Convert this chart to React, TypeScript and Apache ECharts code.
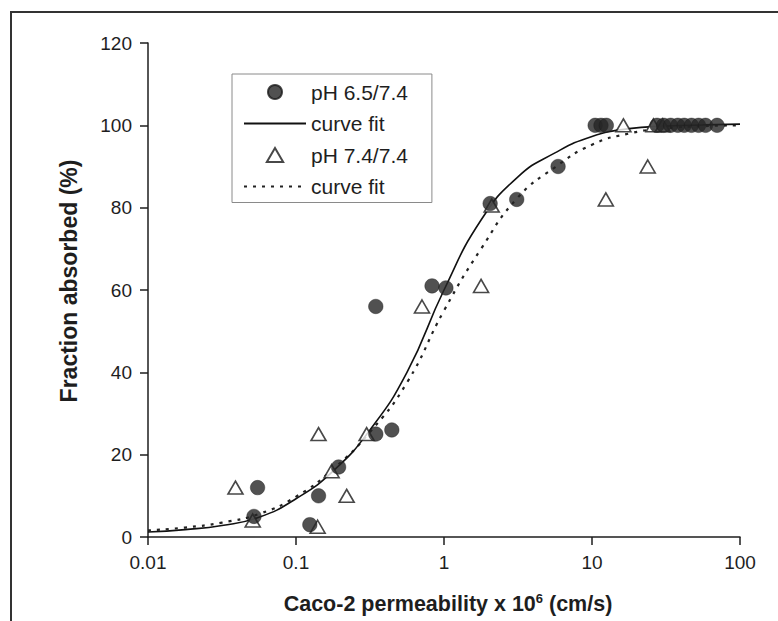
import React, { useEffect, useRef } from "react";
import * as echarts from "echarts";

// ---- data ----
const xTickValues = [0.01, 0.1, 1, 10, 100];
const xTickLabels = ["0.01", "0.1", "1", "10", "100"];
const yTickLabels = ["0", "20", "40", "60", "80", "100", "120"];

const legendLabels = ["pH 6.5/7.4", "curve fit", "pH 7.4/7.4", "curve fit"];
const seriesNames = ["pH 6.5/7.4", "fitA", "pH 7.4/7.4", "fitB"];

// pH 6.5/7.4 (filled circles)
const circlesX = [0.052, 0.055, 0.124, 0.142, 0.194, 0.346, 0.444, 0.346, 0.83, 1.03, 2.05, 3.1, 5.9, 10.5, 11.5, 12.5, 27.5, 30.5, 34, 38, 42, 47, 52.5, 58.5, 70];
const circlesY = [5, 12, 3, 10, 17, 25, 26, 56, 61, 60.5, 81, 82, 90, 100, 100, 100, 100, 100, 100, 100, 100, 100, 100, 100, 100];

// pH 7.4/7.4 (open triangles)
const trianglesX = [0.039, 0.051, 0.14, 0.142, 0.174, 0.22, 0.3, 0.71, 1.78, 2.1, 12.4, 16.3, 23.8, 26, 30];
const trianglesY = [12, 4, 2.5, 25, 16, 10, 25, 56, 61, 80.5, 82, 100, 90, 100, 100];

// curve fit (solid) for pH 6.5/7.4, read at quarter-decade steps
const fitSolidX = [0.01, 0.0178, 0.0316, 0.0562, 0.1, 0.178, 0.316, 0.562, 1, 1.78, 3.16, 5.62, 10, 17.8, 31.6, 56.2, 100];
const fitSolidY = [1.2, 1.8, 2.8, 4.8, 9.3, 16, 26, 40, 60, 77, 87.5, 93.3, 97.3, 99.2, 99.8, 100.1, 100.3];

// curve fit (dotted) for pH 7.4/7.4, read at quarter-decade steps
const fitDotX = [0.01, 0.0178, 0.0316, 0.0562, 0.1, 0.178, 0.316, 0.562, 1, 1.78, 3.16, 5.62, 10, 17.8, 31.6, 56.2, 100];
const fitDotY = [1.6, 2.3, 3.5, 5.6, 9.8, 16.5, 25.5, 37.5, 55, 70, 82.5, 89.8, 95.3, 98, 99.3, 99.8, 100];

const FONT = "'Liberation Sans', Arial, Helvetica, sans-serif";
const INK = "#1e1e1e";
const CLEAR = "rgba(0,0,0,0)";

const zip = (xs: number[], ys: number[]) => xs.map((x, i) => [x, ys[i]]);

export default function App() {
  const ref = useRef<HTMLDivElement>(null);

  useEffect(() => {
    if (!ref.current) return;
    const chart = echarts.init(ref.current, null, { renderer: "svg" });
    chart.setOption({
      animation: false,
      backgroundColor: "#ffffff",
      textStyle: { fontFamily: FONT, color: INK },
      grid: { left: 148, right: 38, top: 43, bottom: 84, containLabel: false },
      graphic: [
        {
          type: "rect",
          shape: { x: 11, y: 12, width: 800, height: 700 },
          style: { fill: "none", stroke: "#333", lineWidth: 2 },
          silent: true,
        },
      ],
      legend: {
        left: 232,
        top: 74,
        orient: "vertical",
        data: [
          { name: seriesNames[0] },
          { name: seriesNames[1], itemStyle: { color: CLEAR, borderColor: CLEAR, borderWidth: 0 } },
          { name: seriesNames[2], icon: "path://M7,0 L14,12 L0,12 Z" },
          { name: seriesNames[3], itemStyle: { color: CLEAR, borderColor: CLEAR, borderWidth: 0 } },
        ],
        itemWidth: 62,
        itemHeight: 14,
        itemGap: 9.5,
        padding: [7, 24, 5, 11],
        borderColor: "#8a8a8a",
        borderWidth: 1,
        backgroundColor: "#ffffff",
        selectedMode: false,
        textStyle: { fontFamily: FONT, fontSize: 21, color: INK, lineHeight: 22 },
        formatter: (name: string) => legendLabels[seriesNames.indexOf(name)],
      },
      xAxis: {
        type: "log",
        logBase: 10,
        min: xTickValues[0],
        max: xTickValues[xTickValues.length - 1],
        name: "Caco-2 permeability x 10{sup|6} (cm/s)",
        nameLocation: "middle",
        nameGap: 55,
        nameTextStyle: {
          fontFamily: FONT,
          fontSize: 21.5,
          fontWeight: "bold",
          color: INK,
          padding: [0, 0, 0, 8],
          rich: {
            sup: { fontSize: 13, fontWeight: "bold", verticalAlign: "top", padding: [0, 0, 10, 0], fontFamily: FONT, color: INK },
          },
        },
        axisLine: { lineStyle: { color: INK, width: 1.5 } },
        axisTick: { show: true, length: 8, inside: false, lineStyle: { color: INK, width: 1.5 } },
        minorTick: { show: false },
        splitLine: { show: false },
        axisLabel: {
          fontFamily: FONT,
          fontSize: 19,
          color: INK,
          margin: 16,
          formatter: (v: number) => {
            const idx = Math.round(Math.log10(v)) + 2;
            return xTickLabels[idx] ?? "";
          },
        },
      },
      yAxis: {
        type: "value",
        min: 0,
        max: 120,
        interval: 20,
        name: "Fraction absorbed (%)",
        nameLocation: "middle",
        nameGap: 68,
        nameTextStyle: { fontFamily: FONT, fontSize: 23, fontWeight: "bold", color: INK, padding: [0, 0, 0, 18] },
        axisLine: { show: true, lineStyle: { color: INK, width: 1.5 } },
        axisTick: { show: true, length: 8, inside: false, lineStyle: { color: INK, width: 1.5 } },
        splitLine: { show: false },
        axisLabel: {
          fontFamily: FONT,
          fontSize: 19,
          color: INK,
          margin: 16,
          formatter: (v: number) => yTickLabels[Math.round(v / 20)] ?? "",
        },
      },
      series: [
        {
          name: seriesNames[0],
          type: "scatter",
          symbol: "circle",
          symbolSize: 14.5,
          z: 4,
          itemStyle: { color: "#262626", borderColor: "#1a1a1a", borderWidth: 0.5 },
          data: zip(circlesX, circlesY),
        },
        {
          name: seriesNames[1],
          type: "line",
          symbol: "none",
          showSymbol: false,
          smooth: 0.5,
          z: 3,
          lineStyle: { color: "#111", width: 1.6, type: "solid" },
          itemStyle: { color: "#111" },
          data: zip(fitSolidX, fitSolidY),
        },
        {
          name: seriesNames[2],
          type: "scatter",
          symbol: "triangle",
          symbolSize: [15, 13],
          z: 3,
          itemStyle: { color: "#ffffff", borderColor: "#1a1a1a", borderWidth: 1.6 },
          data: zip(trianglesX, trianglesY),
        },
        {
          name: seriesNames[3],
          type: "line",
          symbol: "none",
          showSymbol: false,
          smooth: 0.5,
          z: 2,
          lineStyle: { color: "#222", width: 2.2, type: [3, 6] },
          itemStyle: { color: "#222" },
          data: zip(fitDotX, fitDotY),
        },
      ],
    });
    return () => chart.dispose();
  }, []);

  return (
    <div
      ref={ref}
      style={{ position: "absolute", left: 0, top: 0, width: 778, height: 621, background: "#fff" }}
    />
  );
}
